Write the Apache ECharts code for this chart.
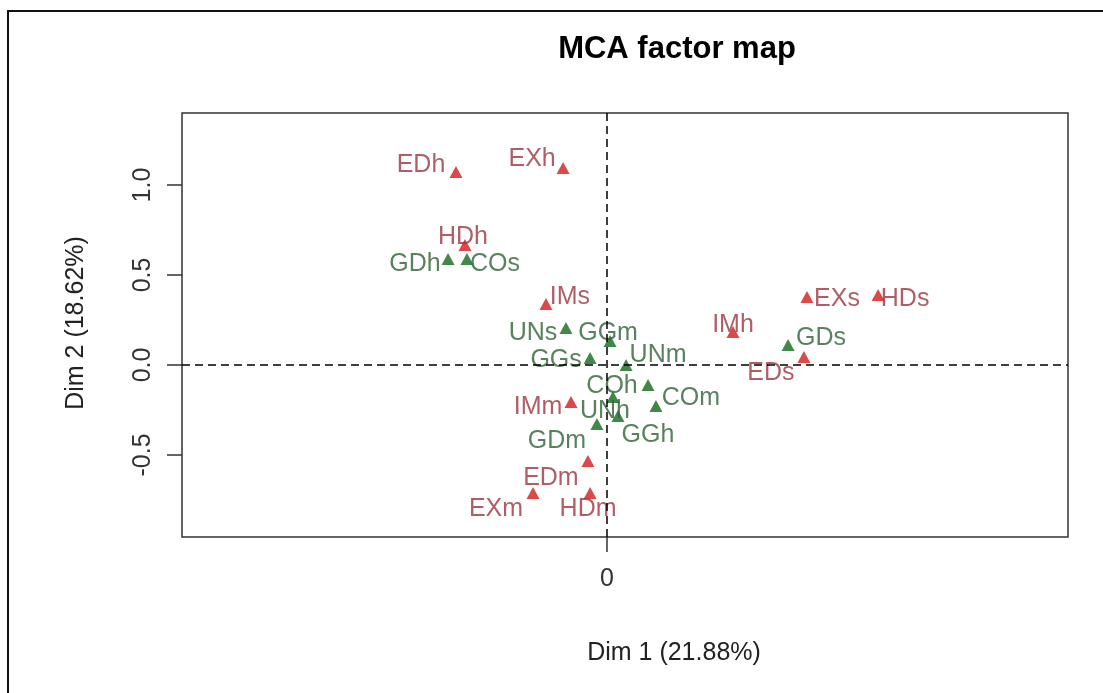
<!DOCTYPE html>
<html>
<head>
<meta charset="utf-8">
<title>MCA factor map</title>
<script src="https://cdn.jsdelivr.net/npm/echarts@6/dist/echarts.min.js"></script>
<style>
  html, body { margin: 0; padding: 0; background: #ffffff; }
  #chart { width: 1103px; height: 693px; }
</style>
</head>
<body>
<div id="chart"></div>
<script>
// Active variable categories (coordinates on Dim 1 / Dim 2)
const activeNames = ['EDh', 'EXh', 'HDh', 'IMs', 'IMh', 'EXs', 'HDs', 'EDs', 'IMm', 'EDm', 'EXm', 'HDm'];
const activeDim1  = [-0.839, -0.244, -0.789, -0.339, 0.700, 1.111, 1.506, 1.094, -0.200, -0.106, -0.411, -0.094];
const activeDim2  = [ 1.072,  1.094,  0.667,  0.339, 0.183, 0.378, 0.389, 0.044, -0.206, -0.533, -0.711, -0.711];

// Supplementary categories
const supNames = ['GDh', 'COs', 'UNs', 'GGm', 'GGs', 'UNm', 'COh', 'UNh', 'COm', 'GGh', 'GDm', 'GDs'];
const supDim1  = [-0.883, -0.778, -0.228, 0.017, -0.094, 0.106, 0.228, 0.033, 0.272, 0.061, -0.056, 1.006];
const supDim2  = [ 0.589,  0.589,  0.206, 0.133,  0.039, 0.000, -0.111, -0.178, -0.228, -0.283, -0.328, 0.111];

// Tick values shown on each axis
const xTicks = [0];
const yTicks = [-0.5, 0.0, 0.5, 1.0];

// Where each category label sits relative to its marker (pixels)
const labelShift = {
  EDh: [-35, -7], EXh: [-31, -9], HDh: [-2, -8], IMs: [24, -7], IMh: [0, -7],
  EXs: [30, 2], HDs: [27, 4], EDs: [-33, 16], IMm: [-33, 5], EDm: [-37, 17],
  EXm: [-37, 16], HDm: [-2, 16],
  GDh: [-33, 5], COs: [28, 5], UNs: [-33, 5], GGm: [-2, -8], GGs: [-34, 2],
  UNm: [32, -10], COh: [-36, 1], UNh: [-8, 14], COm: [35, -8], GGh: [30, 19],
  GDm: [-40, 17], GDs: [33, -7]
};

const FONT = 'Liberation Sans, Arial, Helvetica, sans-serif';

function buildPoints(names, d1, d2) {
  return names.map((n, i) => ({ name: n, value: [d1[i], d2[i]] }));
}

function categorySeries(name, names, d1, d2, markColor, textColor, extra) {
  return Object.assign({
    name: name,
    type: 'scatter',
    symbol: 'triangle',
    symbolSize: [13, 12],
    itemStyle: { color: markColor },
    data: buildPoints(names, d1, d2),
    label: {
      show: true,
      position: 'inside',
      formatter: p => p.name,
      color: textColor,
      fontFamily: FONT,
      fontSize: 25,
      align: 'center',
      verticalAlign: 'middle'
    },
    labelLayout: function (params) {
      const s = labelShift[names[params.dataIndex]] || [0, 0];
      return { dx: s[0], dy: s[1], hideOverlap: false };
    },
    emphasis: { disabled: true },
    silent: true
  }, extra || {});
}

const chart = echarts.init(document.getElementById('chart'), null, { renderer: 'canvas' });

chart.setOption({
  backgroundColor: '#ffffff',
  animation: false,
  title: {
    text: 'MCA factor map',
    left: 672,
    top: 29,
    textAlign: 'center',
    textStyle: { fontFamily: FONT, fontWeight: 'bold', fontSize: 31, color: '#000' }
  },
  grid: {
    left: 182, right: 35, top: 113, bottom: 156,
    show: true, borderColor: '#333', borderWidth: 1.5,
    containLabel: false
  },
  xAxis: {
    type: 'value',
    min: -2.361, max: 2.561,
    splitLine: { show: false },
    axisLine: { show: false, onZero: false },
    axisTick: { show: true, inside: false, length: 15, customValues: xTicks,
                lineStyle: { color: '#333', width: 1.5 } },
    axisLabel: { show: true, customValues: xTicks, margin: 30,
                 fontFamily: FONT, fontSize: 25, color: '#333',
                 formatter: v => String(Math.round(v)) }
  },
  yAxis: {
    type: 'value',
    min: -0.9556, max: 1.4,
    splitLine: { show: false },
    axisLine: { show: false, onZero: false },
    axisTick: { show: true, inside: false, length: 15, customValues: yTicks,
                lineStyle: { color: '#333', width: 1.5 } },
    axisLabel: { show: true, customValues: yTicks, rotate: 90, margin: 26,
                 fontFamily: FONT, fontSize: 25, color: '#333',
                 formatter: v => v.toFixed(1) }
  },
  graphic: [
    { type: 'rect', silent: true, z: 100,
      shape: { x: 8, y: 11, width: 1200, height: 800 },
      style: { fill: 'none', stroke: '#111', lineWidth: 2 } },
    { type: 'text', silent: true, x: 674, y: 653,
      style: { text: 'Dim 1 (21.88%)', fontFamily: FONT, fontSize: 25, fill: '#222',
               align: 'center', verticalAlign: 'middle' } },
    { type: 'text', silent: true, x: 76, y: 323, rotation: Math.PI / 2,
      style: { text: 'Dim 2 (18.62%)', fontFamily: FONT, fontSize: 25, fill: '#222',
               align: 'center', verticalAlign: 'middle' } }
  ],
  series: [
    categorySeries('Active categories', activeNames, activeDim1, activeDim2, '#d41a1a', '#9c3440', {
      markLine: {
        silent: true,
        symbol: 'none',
        label: { show: false },
        lineStyle: { type: [8, 5], color: '#000', width: 1.5 },
        data: [{ xAxis: 0 }, { yAxis: 0 }]
      }
    }),
    categorySeries('Supplementary categories', supNames, supDim1, supDim2, '#13691c', '#2e6335')
  ]
});
</script>
</body>
</html>
